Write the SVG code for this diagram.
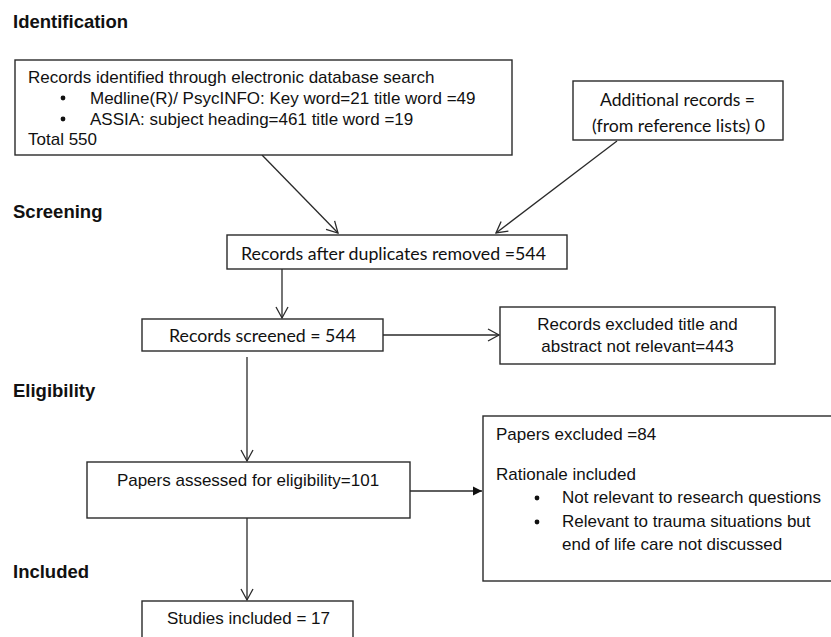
<svg xmlns="http://www.w3.org/2000/svg" width="831" height="637" viewBox="0 0 831 637">
<style>
.box{fill:#fff;stroke:#2a2a2a;stroke-width:1.4}
.ar{font-family:"Liberation Sans",Arial,sans-serif;font-size:17px;fill:#111}
.cal{font-family:Lato,"Open Sans",sans-serif;font-size:16.5px;fill:#111}
.hd{font-family:"Liberation Sans",Arial,sans-serif;font-size:18.5px;font-weight:bold;fill:#111}
.ln{stroke:#2a2a2a;stroke-width:1.3;fill:none}
.mid{text-anchor:middle}
</style>
<defs>
<marker id="open" markerUnits="userSpaceOnUse" viewBox="-13 -8 15 16" refX="0" refY="0" markerWidth="15" markerHeight="16" orient="auto">
<path d="M-11,-6 L0,0 L-11,6" fill="none" stroke="#2a2a2a" stroke-width="1.3"/>
</marker>
<marker id="fill" markerUnits="userSpaceOnUse" viewBox="-10 -6 12 12" refX="0" refY="0" markerWidth="12" markerHeight="12" orient="auto">
<path d="M-9,-4.5 L0,0 L-9,4.5 Z" fill="#111"/>
</marker>
</defs>

<g id="headings">
<text class="hd" x="13" y="28">Identification</text>
<text class="hd" x="13" y="218">Screening</text>
<text class="hd" x="13" y="397">Eligibility</text>
<text class="hd" x="13" y="578">Included</text>
</g>

<g id="connectors">
<line class="ln" x1="262" y1="155" x2="338" y2="233" marker-end="url(#open)"/>
<line class="ln" x1="617" y1="141" x2="496" y2="233" marker-end="url(#open)"/>
<line class="ln" x1="282" y1="269" x2="282" y2="318" marker-end="url(#open)"/>
<line class="ln" x1="383" y1="335" x2="499" y2="335" marker-end="url(#open)"/>
<line class="ln" x1="247" y1="357" x2="247" y2="461" marker-end="url(#open)"/>
<line class="ln" x1="410" y1="491" x2="482" y2="491" marker-end="url(#fill)"/>
<line class="ln" x1="247" y1="518" x2="247" y2="600" marker-end="url(#open)"/>
</g>

<g id="identified">
<rect class="box" x="15" y="60" width="497" height="95"/>
<text class="ar" x="28" y="83">Records identified through electronic database search</text>
<circle cx="63" cy="98" r="2.4" fill="#111"/>
<text class="ar" x="90" y="104">Medline(R)/ PsycINFO: Key word=21 title word =49</text>
<circle cx="63" cy="119" r="2.4" fill="#111"/>
<text class="ar" x="90" y="125">ASSIA: subject heading=461 title word =19</text>
<text class="ar" x="28" y="145">Total 550</text>
</g>

<g id="additional">
<rect class="box" x="573" y="81" width="210" height="59"/>
<text class="cal" x="600" y="106" textLength="155" lengthAdjust="spacingAndGlyphs">Additional records =</text>
<text class="cal" x="592" y="132" textLength="173" lengthAdjust="spacingAndGlyphs">(from reference lists) 0</text>
</g>

<g id="duplicates">
<rect class="box" x="227" y="235" width="340" height="34"/>
<text class="cal" x="241" y="260" textLength="305" lengthAdjust="spacingAndGlyphs">Records after duplicates removed =544</text>
</g>

<g id="screened">
<rect class="box" x="142" y="319" width="241" height="32"/>
<text class="cal" x="169" y="342" textLength="187" lengthAdjust="spacingAndGlyphs">Records screened = 544</text>
</g>

<g id="excluded">
<rect class="box" x="500" y="307" width="275" height="57"/>
<text class="ar mid" x="637.5" y="330">Records excluded title and</text>
<text class="ar mid" x="637.5" y="352">abstract not relevant=443</text>
</g>

<g id="assessed">
<rect class="box" x="87" y="462" width="323" height="56"/>
<text class="ar mid" x="248" y="486">Papers assessed for eligibility=101</text>
</g>

<g id="papers-excluded">
<rect class="box" x="483" y="416" width="360" height="165"/>
<text class="ar" x="496" y="440">Papers excluded =84</text>
<text class="ar" x="496" y="480">Rationale included</text>
<circle cx="537" cy="498" r="2.4" fill="#111"/>
<text class="ar" x="562" y="503">Not relevant to research questions</text>
<circle cx="537" cy="522" r="2.4" fill="#111"/>
<text class="ar" x="562" y="527">Relevant to trauma situations but</text>
<text class="ar" x="562" y="550">end of life care not discussed</text>
</g>

<g id="included">
<rect class="box" x="142" y="601" width="211" height="50"/>
<text class="ar mid" x="248.5" y="624">Studies included = 17</text>
</g>
</svg>
